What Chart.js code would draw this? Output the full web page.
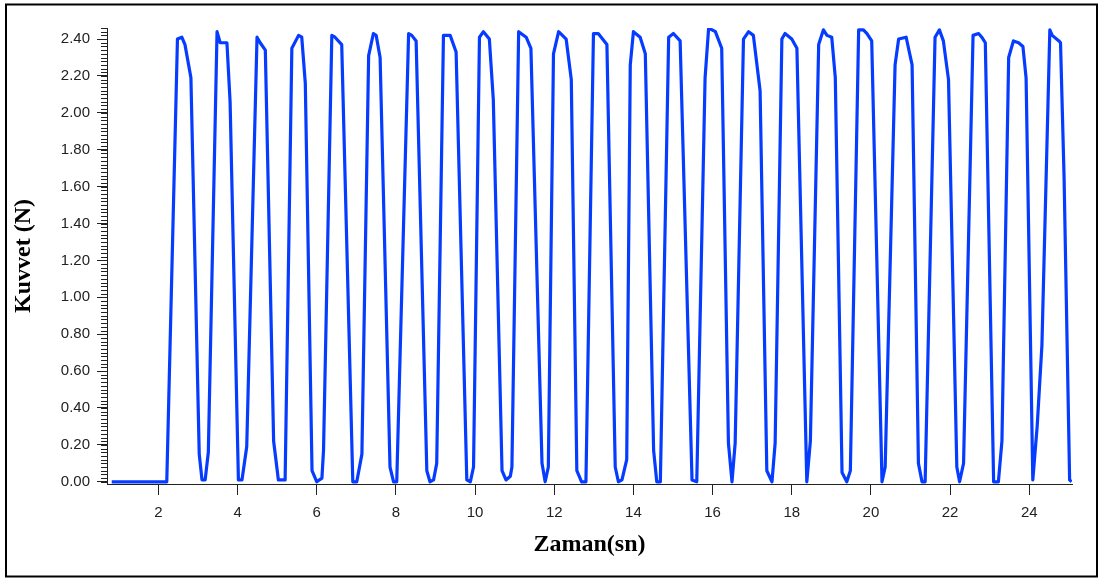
<!DOCTYPE html>
<html>
<head>
<meta charset="utf-8">
<script src="https://cdn.jsdelivr.net/npm/chart.js@4.4.1/dist/chart.umd.min.js"></script>
<style>
  html, body { margin: 0; padding: 0; background: #fff; }
  #wrap { width: 1103px; height: 579px; position: relative; }
</style>
</head>
<body>
<div id="wrap"><canvas id="forceChart" width="1103" height="579"></canvas></div>
<script>
// sample times (s) and force readings (N)
const timeSec = [
  0.82, 2.21, 2.48, 2.59, 2.67, 2.82, 3.03, 3.10, 3.18, 3.26,
  3.48, 3.56, 3.73, 3.81, 4.02, 4.11, 4.23, 4.49, 4.57, 4.70,
  4.91, 5.03, 5.20, 5.37, 5.54, 5.62, 5.71, 5.88, 6.00, 6.13,
  6.17, 6.38, 6.46, 6.63, 6.91, 7.01, 7.14, 7.31, 7.43, 7.50,
  7.60, 7.85, 7.94, 8.02, 8.32, 8.40, 8.51, 8.78, 8.86, 8.95,
  9.03, 9.20, 9.37, 9.52, 9.79, 9.88, 9.96, 10.11, 10.21, 10.36,
  10.46, 10.68, 10.78, 10.89, 10.93, 11.10, 11.29, 11.41, 11.69, 11.77,
  11.85, 11.98, 12.11, 12.30, 12.43, 12.57, 12.69, 12.80, 12.99, 13.11,
  13.33, 13.54, 13.62, 13.71, 13.83, 13.92, 14.00, 14.17, 14.30, 14.51,
  14.59, 14.68, 14.89, 15.01, 15.18, 15.48, 15.60, 15.81, 15.90, 16.07,
  16.23, 16.40, 16.49, 16.57, 16.78, 16.91, 17.03, 17.20, 17.37, 17.50,
  17.58, 17.75, 17.83, 18.00, 18.13, 18.38, 18.47, 18.68, 18.80, 18.89,
  19.01, 19.10, 19.27, 19.39, 19.48, 19.69, 19.81, 19.90, 20.02, 20.28,
  20.36, 20.61, 20.70, 20.89, 21.04, 21.20, 21.29, 21.37, 21.62, 21.73,
  21.83, 21.96, 22.17, 22.24, 22.34, 22.58, 22.72, 22.80, 22.89, 23.10,
  23.22, 23.31, 23.48, 23.60, 23.73, 23.84, 23.92, 24.09, 24.20, 24.32,
  24.52, 24.58, 24.75, 24.79, 24.88, 25.02, 25.07
];
const forceN = [
  0.00, 0.00, 2.40, 2.41, 2.37, 2.19, 0.15, 0.01, 0.01, 0.16,
  2.44, 2.38, 2.38, 2.06, 0.01, 0.01, 0.19, 2.41, 2.38, 2.34,
  0.22, 0.01, 0.01, 2.35, 2.42, 2.41, 2.16, 0.06, 0.00, 0.02,
  0.17, 2.42, 2.41, 2.37, 0.00, 0.00, 0.15, 2.31, 2.43, 2.42,
  2.30, 0.08, 0.00, 0.00, 2.43, 2.42, 2.39, 0.06, 0.00, 0.01,
  0.10, 2.42, 2.42, 2.33, 0.01, 0.00, 0.08, 2.41, 2.44, 2.40,
  2.07, 0.06, 0.01, 0.03, 0.08, 2.44, 2.41, 2.35, 0.10, 0.00,
  0.08, 2.32, 2.44, 2.40, 2.18, 0.06, 0.00, 0.00, 2.43, 2.43,
  2.37, 0.08, 0.00, 0.01, 0.12, 2.26, 2.44, 2.41, 2.32, 0.17,
  0.00, 0.00, 2.41, 2.43, 2.39, 0.01, 0.00, 2.19, 2.46, 2.44,
  2.35, 0.21, 0.00, 0.21, 2.40, 2.44, 2.42, 2.12, 0.06, 0.00,
  0.21, 2.40, 2.43, 2.40, 2.35, 0.00, 0.22, 2.37, 2.45, 2.42,
  2.41, 2.19, 0.05, 0.00, 0.06, 2.45, 2.45, 2.43, 2.39, 0.00,
  0.08, 2.26, 2.40, 2.41, 2.26, 0.10, 0.00, 0.00, 2.41, 2.45,
  2.39, 2.18, 0.08, 0.00, 0.10, 2.42, 2.43, 2.41, 2.38, 0.00,
  0.00, 0.22, 2.30, 2.39, 2.38, 2.36, 2.19, 0.01, 0.30, 0.74,
  2.45, 2.42, 2.39, 2.38, 1.65, 0.01, 0.00
];

const xTickValues = [2, 4, 6, 8, 10, 12, 14, 16, 18, 20, 22, 24];
const yTickLabels = ['0.00', '0.20', '0.40', '0.60', '0.80', '1.00', '1.20',
  '1.40', '1.60', '1.80', '2.00', '2.20', '2.40'];
const yMinorStep = 0.02;
const xTitle = 'Zaman(sn)';
const yTitle = 'Kuvvet (N)';

const points = timeSec.map((t, i) => ({ x: t, y: forceN[i] }));
const yTickValues = yTickLabels.map(Number);

const tickFont = { family: 'Arial, "Liberation Sans", sans-serif', size: 15 };
const titleFont = { family: '"Times New Roman", "Liberation Serif", serif', size: 24, weight: 'bold' };
const axisColor = '#222';

// white page + black frame, plus the small y ruler ticks
const framePlugin = {
  id: 'frame',
  beforeDraw(chart) {
    const { ctx, width, height } = chart;
    ctx.save();
    ctx.fillStyle = '#fff';
    ctx.fillRect(0, 0, width, height);
    ctx.restore();
  },
  afterDraw(chart) {
    const { ctx } = chart;
    const yScale = chart.scales.y;
    ctx.save();
    ctx.strokeStyle = axisColor;
    ctx.lineWidth = 1;
    ctx.beginPath();
    for (let i = 0; i * yMinorStep <= yScale.max + 1e-9; i += 1) {
      const py = Math.round(yScale.getPixelForValue(i * yMinorStep)) + 0.5;
      ctx.moveTo(yScale.right - 6, py);
      ctx.lineTo(yScale.right, py);
    }
    ctx.stroke();
    ctx.strokeStyle = '#000';
    ctx.lineWidth = 2;
    ctx.strokeRect(6, 4.5, 1091, 572);
    ctx.restore();
  }
};

new Chart(document.getElementById('forceChart'), {
  type: 'line',
  data: {
    datasets: [{
      data: points,
      borderColor: 'rgb(5, 60, 255)',
      borderWidth: 3.2,
      borderJoinStyle: 'round',
      pointRadius: 0,
      tension: 0,
      fill: false
    }]
  },
  options: {
    responsive: false,
    animation: false,
    layout: { padding: { left: 0, top: 28, right: 31, bottom: 0 } },
    plugins: { legend: { display: false }, tooltip: { enabled: false } },
    scales: {
      x: {
        type: 'linear',
        min: 0.70,
        max: 25.08,
        afterBuildTicks: (scale) => { scale.ticks = xTickValues.map((v) => ({ value: v })); },
        afterFit: (scale) => { scale.height = 95; },
        ticks: { font: tickFont, color: axisColor, padding: 9, maxRotation: 0, autoSkip: false,
          callback: (v) => String(v) },
        grid: { drawOnChartArea: false, drawTicks: true, tickLength: 11, tickColor: axisColor },
        border: { display: true, color: axisColor, width: 1 },
        title: { display: true, text: xTitle, font: titleFont, color: '#000', padding: { top: 0, bottom: 20 } }
      },
      y: {
        type: 'linear',
        min: -0.012,
        max: 2.46,
        afterBuildTicks: (scale) => { scale.ticks = yTickValues.map((v) => ({ value: v })); },
        afterFit: (scale) => { scale.width = 107; },
        ticks: { font: tickFont, color: axisColor, padding: 7, autoSkip: false,
          callback: (v) => yTickLabels[yTickValues.indexOf(v)] ?? v.toFixed(2) },
        grid: { drawOnChartArea: false, drawTicks: true, tickLength: 10, tickColor: axisColor },
        border: { display: true, color: axisColor, width: 1 },
        title: { display: true, text: yTitle, font: titleFont, color: '#000', padding: { top: 9, bottom: 0 } }
      }
    }
  },
  plugins: [framePlugin]
});
</script>
</body>
</html>
